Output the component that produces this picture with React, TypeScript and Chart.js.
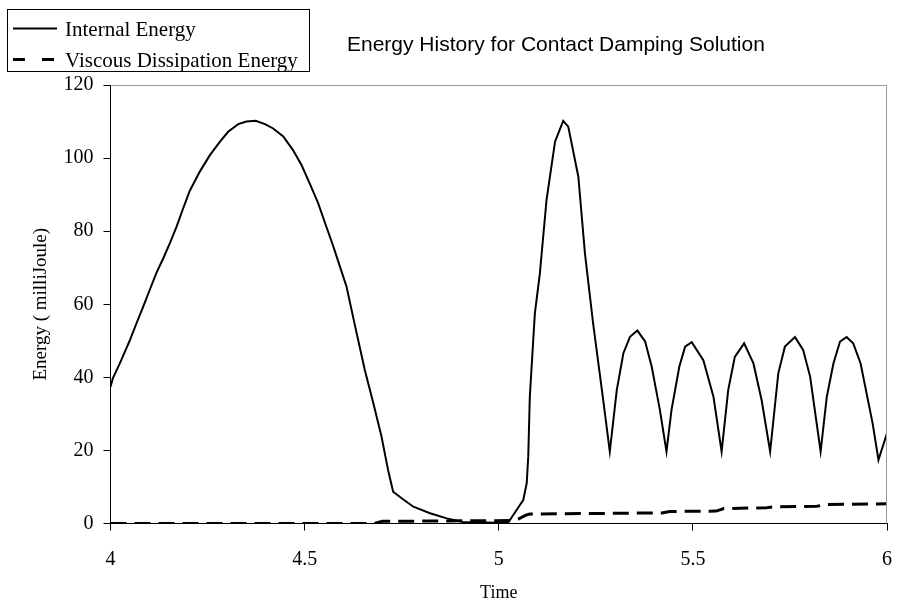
import React, { useEffect, useRef } from "react";
import { Chart, registerables } from "chart.js";

Chart.register(...registerables);

// Internal Energy series (time, milliJoule)
const internalTime = [
  4.0, 4.006, 4.024, 4.05, 4.067, 4.084, 4.101, 4.118, 4.136, 4.153, 4.17, 4.187, 4.204,
  4.23, 4.256, 4.282, 4.303, 4.329, 4.35, 4.374, 4.398, 4.419, 4.445, 4.47, 4.492, 4.513,
  4.535, 4.556, 4.574, 4.591, 4.608, 4.629, 4.655, 4.677, 4.698, 4.715, 4.728, 4.75, 4.78,
  4.823, 4.866, 4.908, 4.994, 5.024, 5.046, 5.063, 5.072, 5.076, 5.08, 5.093, 5.106, 5.123,
  5.145, 5.166, 5.179, 5.205, 5.222, 5.243, 5.269, 5.286, 5.304, 5.321, 5.338, 5.357, 5.377,
  5.394, 5.415, 5.432, 5.445, 5.465, 5.48, 5.497, 5.527, 5.553, 5.574, 5.591, 5.608, 5.632,
  5.656, 5.677, 5.699, 5.72, 5.737, 5.763, 5.784, 5.802, 5.829, 5.845, 5.862, 5.879, 5.896,
  5.913, 5.932, 5.963, 5.978, 6.0,
];
const internalEnergy = [
  37.4, 39.7, 43.8, 50.2, 54.8, 59.3, 63.9, 68.5, 72.6, 76.7, 81.2, 86.2, 91.0,
  96.3, 100.8, 104.5, 107.2, 109.3, 110.0, 110.2, 109.3, 108.1, 105.9, 102.2, 98.1, 93.1,
  87.6, 81.2, 75.8, 70.3, 64.8, 54.5, 42, 32.9, 23.8, 14.6, 8.7, 6.9, 4.6,
  2.8, 1.4, 0.4, 0.2, 0.2, 3.7, 6.4, 11, 18.3, 34.7, 57.5, 68.5, 88.5,
  104.5, 110.2, 108.6, 94.9, 73.9, 54.8, 33.8, 19.7, 36.5, 46.6, 51.1, 52.8, 49.8,
  42.9, 31.1, 19.7, 31.1, 42.9, 48.4, 49.6, 44.7, 34.7, 19.7, 36.5, 45.6, 49.3,
  43.8, 33.8, 19.7, 41.1, 48.4, 51, 47.5, 40.2, 19.7, 34.7, 43.8, 49.8, 51,
  49.3, 43.8, 27.4, 17.4, 24.7,
];

// Viscous Dissipation Energy series
const viscousTime = [
  4.0, 4.68, 4.7, 5.04, 5.05, 5.07, 5.08, 5.42, 5.44, 5.56, 5.58, 5.69, 5.71, 5.82, 5.84, 6.0,
];
const viscousEnergy = [
  0, 0, 0.6, 0.8, 1.2, 2.3, 2.6, 2.9, 3.3, 3.4, 4.1, 4.3, 4.6, 4.7, 5.2, 5.4,
];

const seriesNames = ["Internal Energy", "Viscous Dissipation Energy"];
const chartTitle = "Energy History for Contact Damping Solution";
const xTitle = "Time";
const yTitle = "Energy ( milliJoule)";
const xMin = 4, xMax = 6, xStep = 0.5;
const yMin = 0, yMax = 120, yStep = 20;

const SERIF = "'Liberation Serif', 'Times New Roman', serif";
const SANS = "'Liberation Sans', Arial, sans-serif";

const decorPlugin = {
  id: "decor",
  afterDraw(chart: any) {
    const ctx = chart.ctx;
    const a = chart.chartArea;
    ctx.save();
    // top and right plot frame (gray)
    ctx.strokeStyle = "#9a9a9a";
    ctx.lineWidth = 1;
    ctx.setLineDash([]);
    ctx.beginPath();
    ctx.moveTo(a.left, a.top + 0.5);
    ctx.lineTo(a.right, a.top + 0.5);
    ctx.moveTo(a.right - 0.5, a.top);
    ctx.lineTo(a.right - 0.5, a.bottom);
    ctx.stroke();

    // title
    ctx.fillStyle = "#000";
    ctx.font = `21px ${SANS}`;
    ctx.textAlign = "left";
    ctx.textBaseline = "alphabetic";
    ctx.fillText(chartTitle, 347, 51);

    // legend box
    ctx.strokeStyle = "#000";
    ctx.lineWidth = 1;
    ctx.strokeRect(7.5, 9.5, 302, 62);
    ctx.lineWidth = 2;
    ctx.beginPath();
    ctx.moveTo(13, 28.5);
    ctx.lineTo(57, 28.5);
    ctx.stroke();
    ctx.lineWidth = 3;
    ctx.setLineDash([12, 17]);
    ctx.beginPath();
    ctx.moveTo(13, 59.5);
    ctx.lineTo(56, 59.5);
    ctx.stroke();
    ctx.setLineDash([]);
    ctx.font = `21px ${SERIF}`;
    ctx.fillText(seriesNames[0], 65, 36);
    ctx.fillText(seriesNames[1], 65, 66.5);
    ctx.restore();
  },
};

export default function App() {
  const ref = useRef<HTMLCanvasElement | null>(null);
  useEffect(() => {
    document.body.style.margin = "0";
    const internalData = internalTime.map((t, i) => ({ x: t, y: internalEnergy[i] }));
    const viscousData = viscousTime.map((t, i) => ({ x: t, y: viscousEnergy[i] }));
    const chart = new Chart(ref.current as HTMLCanvasElement, {
      type: "line",
      data: {
        datasets: [
          {
            label: seriesNames[1],
            data: viscousData,
            borderColor: "#000",
            borderWidth: 3,
            borderDash: [16, 8],
            pointRadius: 0,
            tension: 0,
            fill: false,
          },
          {
            label: seriesNames[0],
            data: internalData,
            borderColor: "#000",
            borderWidth: 2,
            pointRadius: 0,
            tension: 0,
            fill: false,
          },
        ],
      },
      options: {
        responsive: false,
        animation: false,
        devicePixelRatio: 1,
        layout: { padding: { top: 85, right: 10, left: 0, bottom: 0 } },
        plugins: {
          legend: { display: false },
          title: { display: false },
          tooltip: { enabled: false },
        },
        scales: {
          x: {
            type: "linear",
            min: xMin,
            max: xMax,
            afterFit: (s: any) => {
              s.height = 84.5;
              s.paddingRight = 0;
              s.paddingLeft = 0;
            },
            afterBuildTicks: (s: any) => {
              const arr = [];
              for (let v = xMin; v <= xMax + 1e-9; v += xStep) arr.push({ value: Math.round(v * 10) / 10 });
              s.ticks = arr;
            },
            ticks: {
              color: "#000",
              font: { family: SERIF, size: 20 },
              padding: 17,
              maxRotation: 0,
              autoSkip: false,
              callback: (v: any) => String(Number(v)),
            },
            grid: {
              display: true,
              drawOnChartArea: false,
              drawTicks: true,
              tickLength: 7,
              color: "#000",
            },
            border: { display: true, color: "#000", width: 1 },
            title: {
              display: true,
              text: xTitle,
              color: "#000",
              font: { family: SERIF, size: 18 },
              padding: { top: 0, bottom: 4 },
            },
          },
          y: {
            type: "linear",
            min: yMin,
            max: yMax,
            afterFit: (s: any) => {
              s.width = 110.5;
              s.paddingTop = 0;
              s.paddingBottom = 0;
            },
            ticks: {
              stepSize: yStep,
              color: "#000",
              font: { family: SERIF, size: 20 },
              padding: 10,
            },
            grid: {
              display: true,
              drawOnChartArea: false,
              drawTicks: true,
              tickLength: 7,
              color: "#000",
            },
            border: { display: true, color: "#000", width: 1 },
            title: {
              display: true,
              text: yTitle,
              color: "#000",
              font: { family: SERIF, size: 19 },
              padding: { top: 30, bottom: 0 },
            },
          },
        },
      },
      plugins: [decorPlugin],
    });
    return () => chart.destroy();
  }, []);
  return (
    <div style={{ position: "absolute", left: 0, top: 0, width: 897, height: 608 }}>
      <canvas ref={ref} width={897} height={608} style={{ width: 897, height: 608 }} />
    </div>
  );
}
